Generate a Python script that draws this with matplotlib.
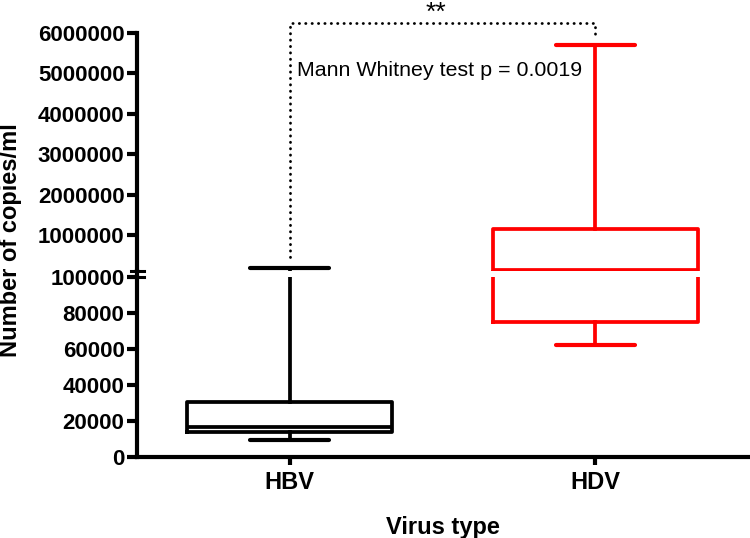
import matplotlib
matplotlib.use("Agg")
import matplotlib.pyplot as plt
from matplotlib.lines import Line2D

plt.rcParams['font.family'] = ['Liberation Sans', 'DejaVu Sans']

# data (copies/ml)
groups = ['HBV', 'HDV']
colors = ['black', 'red']
whislo = [9400, 62000]
q1 = [13900, 75000]
med = [16700, 135000]
q3 = [30500, 1150000]
whishi = [180000, 5700000]

lo_ticks = [0, 20000, 40000, 60000, 80000, 100000]
hi_ticks = [1000000, 2000000, 3000000, 4000000, 5000000, 6000000]
brk = 100000

W, H = 750, 538
fig = plt.figure(figsize=(W/100, H/100), dpi=100)
# axis pixel positions
x0, x1 = 137, 748
y_zero, y_brk_lo, y_brk_hi, y_top = 457, 277, 271.4, 33
ax_lo = fig.add_axes([x0/W, (H-y_zero)/H, (x1-x0)/W, (y_zero-y_brk_lo)/H])
ax_hi = fig.add_axes([x0/W, (H-y_brk_hi)/H, (x1-x0)/W, (y_brk_hi-y_top)/H])

lw = 2.7
for ax in (ax_lo, ax_hi):
    for i in range(len(groups)):
        st = [dict(med=med[i], q1=q1[i], q3=q3[i], whislo=whislo[i],
                   whishi=whishi[i], label=groups[i])]
        c = colors[i]
        ax.bxp(st, positions=[i+1], widths=0.67, capwidths=0.26,
               showfliers=False,
               boxprops=dict(color=c, lw=lw),
               medianprops=dict(color=c, lw=lw),
               whiskerprops=dict(color=c, lw=lw),
               capprops=dict(color=c, lw=lw+0.3, solid_capstyle='round'))
    ax.set_xlim(0.5, 2.5)
    for s in ('top', 'right'):
        ax.spines[s].set_visible(False)
    ax.spines['left'].set_linewidth(lw+0.3)
    ax.tick_params(axis='y', direction='out', length=7, width=lw+0.3, pad=2)

ax_lo.set_ylim(0, brk)
ax_lo.set_yticks(lo_ticks)
ax_lo.set_yticklabels([str(v) for v in lo_ticks], fontweight='bold', fontsize=16)
ax_lo.spines['bottom'].set_linewidth(lw+0.3)
ax_lo.set_xticks([1, 2])
ax_lo.set_xticklabels(groups, fontweight='bold', fontsize=17)
ax_lo.tick_params(axis='x', direction='out', length=6, width=lw+0.3, pad=4)
ax_lo.set_xlabel('Virus type', fontweight='bold', fontsize=17, labelpad=16)

ax_hi.set_ylim(brk, 6000000)
ax_hi.set_yticks(hi_ticks)
ax_hi.set_yticklabels([str(v) for v in hi_ticks], fontweight='bold', fontsize=16)
ax_hi.spines['bottom'].set_visible(False)
ax_hi.set_xticks([])

# axis break: join the spine and draw "=" marks
xf = x0/W
fig.add_artist(Line2D([xf, xf], [(H-y_brk_lo)/H, (H-y_brk_hi)/H],
                      color='black', lw=lw+0.3, transform=fig.transFigure))
for yy in (y_brk_lo, y_brk_hi):
    fig.add_artist(Line2D([(x0-6)/W, (x0+7)/W], [(H-yy)/H, (H-yy)/H],
                          color='black', lw=2.2, transform=fig.transFigure))

fig.text(11/W, (H-240)/H, 'Number of copies/ml', rotation=90,
         ha='center', va='center', fontsize=17, fontweight='bold')

# significance bracket
ax_hi.plot([1, 1, 2, 2], [450000, 6250000, 6250000, 5900000],
           ls=(0, (0.1, 2.2)), dash_capstyle='round',
           color='black', lw=2, clip_on=False)
ax_hi.text(1.48, 6800000, '**', ha='center', va='top', fontsize=19,
           clip_on=False)
ax_hi.text(1.025, 5080000, 'Mann Whitney test p = 0.0019', ha='left',
           va='center', fontsize=15.4)

fig.savefig('out.png', dpi=100)
